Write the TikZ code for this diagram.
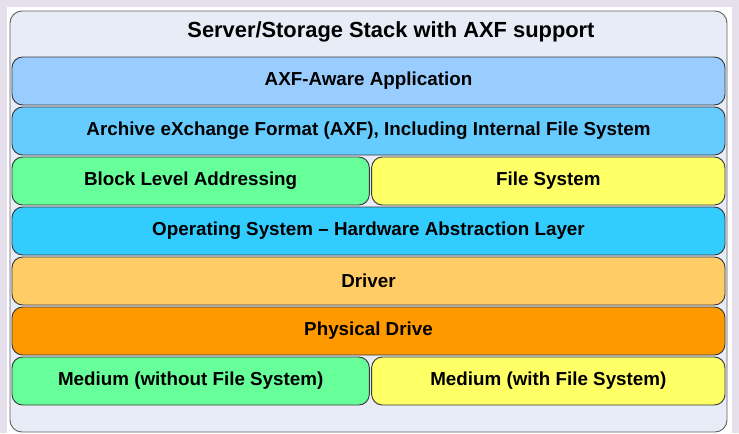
\documentclass[tikz,border=0pt]{standalone}
\usepackage{fontspec}
\setmainfont{Liberation Sans}
\usetikzlibrary{positioning}
\definecolor{pagebg}{HTML}{E5E0EC}
\definecolor{stackbg}{HTML}{E7ECF6}
\definecolor{appblue}{HTML}{99CCFF}
\definecolor{axfblue}{HTML}{66CCFF}
\definecolor{osblue}{HTML}{33CCFF}
\definecolor{lowgreen}{HTML}{66FF99}
\definecolor{fsyellow}{HTML}{FFFF66}
\definecolor{drvorange}{HTML}{FFCC66}
\definecolor{physorange}{HTML}{FF9900}
\definecolor{edge}{HTML}{3A3A3A}
\begin{document}
\begin{tikzpicture}[x=0.75pt,y=-0.75pt,
	layer/.style={draw=edge, line width=0.7pt, rounded corners=8pt, minimum height=36pt,
		font=\bfseries\fontsize{14.1}{15}\selectfont, inner sep=0pt},
	full/.style={layer, minimum width=534.75pt},
	lefthalf/.style={layer, minimum width=268pt},
	righthalf/.style={layer, minimum width=265pt}]
	\useasboundingbox[fill=pagebg] (0,0) rectangle (739,433);
	\fill[white] (7,7) rectangle (732,433);
	\node[draw=edge!80, line width=0.7pt, fill=stackbg, rounded corners=9pt,
		minimum width=537.75pt, minimum height=315.75pt, inner sep=0pt] (stack) at (368.5,221.5) {};
	\node[font=\bfseries\fontsize{16.4}{18}\selectfont] (title) at (391,32) {Server/Storage Stack with AXF support};
	\node[full, fill=appblue] (app) at (368.5,81) {AXF-Aware Application};
	\node[full, fill=axfblue, below=0.8pt of app] (axf) {Archive eXchange Format (AXF), Including Internal File System};
	\node[lefthalf, fill=lowgreen, anchor=north west] (block) at ([yshift=-0.8pt]axf.south west) {Block Level Addressing};
	\node[righthalf, fill=fsyellow, anchor=north east] (fs) at ([yshift=-0.8pt]axf.south east) {File System};
	\node[full, fill=osblue, below=0.8pt of block.south west, anchor=north west] (os) {Operating System -- Hardware Abstraction Layer};
	\node[full, fill=drvorange, below=0.8pt of os] (driver) {Driver};
	\node[full, fill=physorange, below=0.8pt of driver] (drive) {Physical Drive};
	\node[lefthalf, fill=lowgreen, anchor=north west] (rawmed) at ([yshift=-0.8pt]drive.south west) {Medium (without File System)};
	\node[righthalf, fill=fsyellow, anchor=north east] (fsmed) at ([yshift=-0.8pt]drive.south east) {Medium (with File System)};
\end{tikzpicture}
\end{document}
